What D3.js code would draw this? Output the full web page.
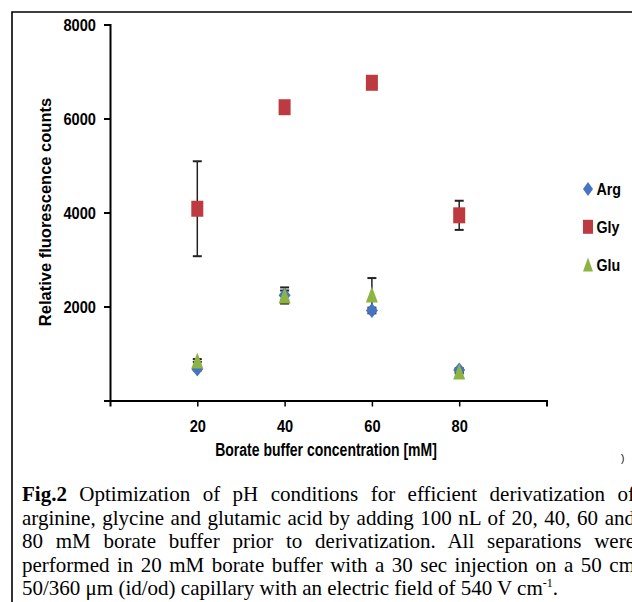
<!DOCTYPE html>
<html>
<head>
<meta charset="utf-8">
<script src="https://cdn.jsdelivr.net/npm/d3@7"></script>
<style>
  html, body { margin: 0; padding: 0; background: #fff; overflow: hidden; }
  #wrap { position: relative; width: 632px; height: 602px; overflow: hidden; }
  svg { position: absolute; left: 0; top: 0; }
  .narrow { font-family: "Liberation Sans", Arial, sans-serif; font-weight: bold; }
  #caption { position: absolute; left: 22px; top: 483px; width: 613px;
    font-family: "Liberation Serif", "Times New Roman", serif; font-size: 21px; line-height: 23.5px; color: #000; }
  #caption div { text-align: justify; text-align-last: justify; white-space: nowrap; }
  #caption div.last { text-align-last: left; }
</style>
</head>
<body>
<div id="wrap"></div>
<script>
// borate buffer concentration (mM)
const conc = [20, 40, 60, 80];
const xTicks = [20, 40, 60, 80];
const yTicks = [2000, 4000, 6000, 8000];

// mean relative fluorescence counts and error (+/-) per amino acid
const argVals = [670, 2240, 1915, 649];
const argErr  = [30, 100, 60, 40];
const glyVals = [4080, 6240, 6760, 3940];
const glyErr  = [1010, 100, 100, 310];
const gluVals = [851, 2234, 2255, 617];
const gluErr  = [30, 172, 350, 40];

const captionLines = [
  '<b>Fig.2</b> Optimization of pH conditions for efficient derivatization of',
  'arginine, glycine and glutamic acid by adding 100 nL of 20, 40, 60 and',
  '80 mM borate buffer prior to derivatization. All separations were',
  'performed in 20 mM borate buffer with a 30 sec injection on a 50 cm',
  '50/360 \u03bcm (id/od) capillary with an electric field of 540 V cm<sup style="font-size:12px;vertical-align:8px;line-height:0">-1</sup>.'
];

const series = [
  {name: 'Arg', vals: argVals, err: argErr, color: '#4674c0', shape: 'diamond', w: 12, h: 15},
  {name: 'Gly', vals: glyVals, err: glyErr, color: '#bd3a40', shape: 'square', w: 12, h: 16},
  {name: 'Glu', vals: gluVals, err: gluErr, color: '#8db443', shape: 'triangle', w: 12, h: 16}
];

function markerPath(shape, w, h){
  if(shape === 'diamond') return 'M0,' + (-h/2) + 'L' + (w/2) + ',0L0,' + (h/2) + 'L' + (-w/2) + ',0Z';
  if(shape === 'square') return 'M' + (-w/2) + ',' + (-h/2) + 'h' + w + 'v' + h + 'h' + (-w) + 'Z';
  return 'M0,' + (-h/2) + 'L' + (w/2) + ',' + (h/2) + 'L' + (-w/2) + ',' + (h/2) + 'Z';
}

// no narrow face installed: squeeze the glyphs to mimic Arial Narrow Bold
function squeeze(sel, ratio){
  sel.each(function(){
    const w = this.getComputedTextLength();
    d3.select(this).attr('textLength', w * ratio).attr('lengthAdjust', 'spacingAndGlyphs');
  });
}

const wrap = d3.select('#wrap');
const svg = wrap.append('svg').attr('width', 632).attr('height', 602);

// frame round the figure
svg.append('path')
  .attr('d', 'M12,602V12H640')
  .attr('fill', 'none').attr('stroke', '#000').attr('stroke-width', 1.6);

const x = d3.scaleLinear().domain([0, 100]).range([110, 546.5]);
const y = d3.scaleLinear().domain([0, 8000]).range([400.5, 24.5]);

// y axis
const gy = svg.append('g').attr('class', 'narrow')
  .attr('transform', 'translate(' + x(0) + ',0)')
  .call(d3.axisLeft(y).tickValues(yTicks).tickSizeOuter(0).tickSize(6).tickPadding(8).tickFormat(d3.format('d')));
gy.select('.domain').attr('stroke-width', 2);
gy.selectAll('.tick line').attr('stroke-width', 2);
gy.selectAll('.tick text').attr('font-size', 17).attr('fill', '#000').attr('dy', '0.36em').call(squeeze, 0.86);

// x axis
const gx = svg.append('g').attr('class', 'narrow')
  .attr('transform', 'translate(0,' + y(0) + ')')
  .call(d3.axisBottom(x).tickValues(xTicks).tickSizeOuter(0).tickSize(6).tickPadding(13));
gx.select('.domain').attr('stroke-width', 2);
gx.selectAll('.tick line').attr('stroke-width', 1.5);
gx.selectAll('.tick text').attr('font-size', 17).attr('fill', '#000').call(squeeze, 0.86);

// axis titles
svg.append('text').attr('class', 'narrow')
  .attr('x', 326).attr('y', 456)
  .attr('text-anchor', 'middle').attr('font-size', 17.5)
  .text('Borate buffer concentration [mM]')
  .call(squeeze, 0.8);

svg.append('text')
  .attr('transform', 'translate(51,212) rotate(-90)')
  .attr('text-anchor', 'middle')
  .attr('font-family', '"Liberation Sans", Arial, sans-serif')
  .attr('font-weight', 'bold').attr('font-size', 16.5)
  .text('Relative fluorescence counts');

// error bars
series.forEach(s => {
  const g = svg.append('g').attr('stroke', '#222').attr('stroke-width', 1.5);
  conc.forEach((c, i) => {
    const top = y(s.vals[i] + s.err[i]), bot = y(s.vals[i] - s.err[i]), cx = x(c);
    g.append('line').attr('x1', cx).attr('x2', cx).attr('y1', top).attr('y2', bot);
    g.append('line').attr('x1', cx - 4.5).attr('x2', cx + 4.5).attr('y1', top).attr('y2', top).attr('stroke-width', 2);
    g.append('line').attr('x1', cx - 4.5).attr('x2', cx + 4.5).attr('y1', bot).attr('y2', bot).attr('stroke-width', 2);
  });
});

// markers
series.forEach(s => {
  svg.append('g').selectAll('path')
    .data(conc.map((c, i) => ({c, v: s.vals[i]})))
    .join('path')
    .attr('transform', d => 'translate(' + x(d.c) + ',' + y(d.v) + ')')
    .attr('d', markerPath(s.shape, s.w, s.h))
    .attr('fill', s.color);
});

// legend
const legend = svg.append('g').attr('class', 'narrow')
  .selectAll('g').data(series).join('g')
  .attr('transform', (d, i) => 'translate(588,' + (189 + i * 37.8) + ')');
legend.append('path')
  .attr('d', d => markerPath(d.shape, 10, 14))
  .attr('fill', d => d.color);
legend.append('text')
  .attr('x', 8.5).attr('y', 6)
  .attr('font-size', 17).attr('fill', '#000')
  .text(d => d.name)
  .call(squeeze, 0.84);

// stray bracket at right edge of the figure panel
svg.append('text')
  .attr('x', 621).attr('y', 462)
  .attr('font-family', '"Liberation Sans", sans-serif').attr('font-size', 10)
  .text(')');

// caption
const cap = wrap.append('div').attr('id', 'caption');
cap.selectAll('div').data(captionLines).join('div')
  .attr('class', (d, i) => i === captionLines.length - 1 ? 'last' : null)
  .html(d => d);
</script>
</body>
</html>
